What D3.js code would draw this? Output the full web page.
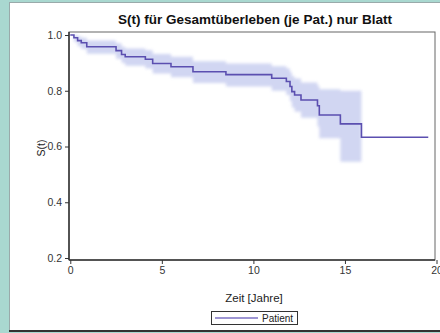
<!DOCTYPE html>
<html><head><meta charset="utf-8">
<script src="https://cdn.jsdelivr.net/npm/d3@7"></script>
<style>body{margin:0;background:#a9d8d0;}svg{display:block;}</style>
</head><body>
<svg id="c" width="440" height="333"></svg>
<script>
const title = "S(t) für Gesamtüberleben (je Pat.) nur Blatt";
const xLabel = "Zeit [Jahre]";
const yLabel = "S(t)";
const seriesName = "Patient";
const xTicks = [0, 5, 10, 15, 20];
const yTicks = [0.2, 0.4, 0.6, 0.8, 1.0];
// Kaplan-Meier step times, survival, CI lower, CI upper
const times = [0, 0.2, 0.4, 0.6, 0.9, 2.5, 2.8, 3.0, 4.1, 4.5, 5.5, 6.7, 8.5, 11.0, 11.8, 12.0, 12.1, 12.25, 12.6, 13.5, 13.6, 14.75, 15.9];
const surv  = [1.0, 0.99, 0.98, 0.972, 0.958, 0.944, 0.93, 0.922, 0.913, 0.898, 0.886, 0.868, 0.858, 0.845, 0.833, 0.815, 0.797, 0.785, 0.767, 0.746, 0.713, 0.681, 0.633];
const lower = [1.0, 0.975, 0.96, 0.95, 0.933, 0.915, 0.9, 0.89, 0.88, 0.862, 0.848, 0.828, 0.815, 0.8, 0.785, 0.762, 0.74, 0.725, 0.703, 0.672, 0.63, 0.545, null];
const upper = [1.0, 1.0, 0.995, 0.99, 0.98, 0.97, 0.958, 0.952, 0.945, 0.932, 0.922, 0.906, 0.898, 0.888, 0.88, 0.866, 0.852, 0.844, 0.83, 0.818, 0.805, 0.80, null];
const tEnd = 19.55;

const svg = d3.select("#c");
const defs = svg.append("defs");
defs.append("filter").attr("id","blur").attr("x","-10%").attr("y","-10%").attr("width","120%").attr("height","120%")
  .append("feGaussianBlur").attr("stdDeviation",1.8);

svg.append("rect").attr("x",0).attr("y",0).attr("width",440).attr("height",333).attr("fill","#a9d8d0");
svg.append("rect").attr("x",9.5).attr("y",2.5).attr("width",440).attr("height",328).attr("fill","#ffffff").attr("stroke","#9aa").attr("stroke-width",1);
svg.append("line").attr("x1",9).attr("x2",440).attr("y1",331).attr("y2",331).attr("stroke","#333").attr("stroke-width",2);

const x = d3.scaleLinear().domain([-0.07, 20]).range([69, 436.5]);
const y = d3.scaleLinear().domain([0.2, 1.0]).range([258, 35]);
const yTop = 32, yBot = 260, xL = 69, xR = 435;

// CI band as step area
const bandPts = [];
for (let i = 0; i < times.length - 1; i++) {
  if (lower[i] == null) continue;
  bandPts.push({t: times[i], lo: lower[i], hi: upper[i]});
  bandPts.push({t: times[i+1], lo: lower[i], hi: upper[i]});
}
const area = d3.area().x(d => x(d.t)).y0(d => y(d.lo)).y1(d => y(d.hi));
svg.append("path").attr("d", area(bandPts)).attr("fill","#c9cff0").attr("opacity",0.85).attr("filter","url(#blur)");

// Survival step line
const linePts = times.map((t,i)=>({t, s: surv[i]}));
linePts.push({t: tEnd, s: surv[surv.length-1]});
const line = d3.line().x(d => x(d.t)).y(d => y(d.s)).curve(d3.curveStepAfter);
svg.append("path").attr("d", line(linePts)).attr("fill","none").attr("stroke","#5b4fb0").attr("stroke-width",1.6);

// frame
svg.append("rect").attr("x",xL).attr("y",yTop).attr("width",xR-xL).attr("height",yBot-yTop).attr("fill","none").attr("stroke","#666").attr("stroke-width",1);

// axes
const font = "'Liberation Sans', Arial, sans-serif";
const gx = svg.append("g").attr("transform",`translate(0,${yBot})`)
  .call(d3.axisBottom(x).tickValues(xTicks).tickFormat(d3.format("d")).tickSize(4).tickSizeOuter(0));
const gy = svg.append("g").attr("transform",`translate(${xL},0)`)
  .call(d3.axisLeft(y).tickValues(yTicks).tickFormat(d3.format(".1f")).tickSize(4).tickSizeOuter(0));
[gx, gy].forEach(g => {
  g.select(".domain").attr("stroke","#333").attr("stroke-width",1.5);
  g.selectAll(".tick line").attr("stroke","#333");
  g.selectAll(".tick text").attr("font-family",font).attr("font-size",10.5).attr("fill","#333");
});
gx.select(".domain").attr("d", `M${xL},0H${xR}`);
gy.select(".domain").attr("d", `M0,${yTop}V${yBot}`);

// title and labels
svg.append("text").attr("x",255).attr("y",24).attr("text-anchor","middle")
  .attr("font-family",font).attr("font-weight","bold").attr("font-size",13.5).attr("fill","#111").text(title);
svg.append("text").attr("x",254).attr("y",302).attr("text-anchor","middle")
  .attr("font-family",font).attr("font-size",11.5).attr("fill","#222").text(xLabel);
svg.append("text").attr("transform","translate(45,148) rotate(-90)").attr("text-anchor","middle")
  .attr("font-family",font).attr("font-size",10.5).attr("fill","#222").text(yLabel);

// legend
svg.append("rect").attr("x",211.5).attr("y",311.5).attr("width",86).attr("height",13).attr("fill","#fff").attr("stroke","#333").attr("stroke-width",1);
svg.append("line").attr("x1",215).attr("x2",258).attr("y1",318).attr("y2",318).attr("stroke","#7c72c4").attr("stroke-width",1.3);
svg.append("text").attr("x",262).attr("y",322).attr("font-family",font).attr("font-size",10).attr("fill","#222").text(seriesName);
</script>
</body></html>
